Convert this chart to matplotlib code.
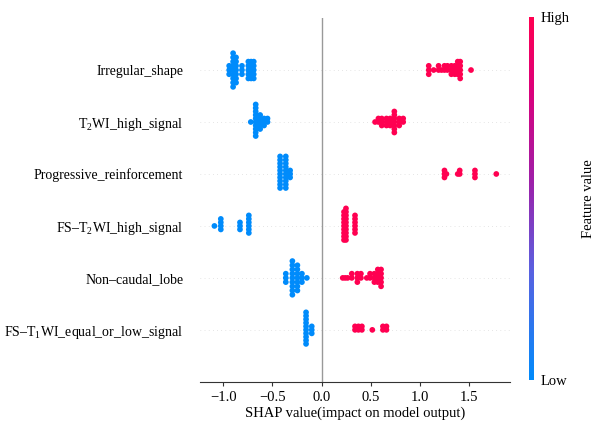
import numpy as np
import matplotlib
matplotlib.use("Agg")
import matplotlib.pyplot as plt
from matplotlib.colors import LinearSegmentedColormap, Normalize
from matplotlib.cm import ScalarMappable

plt.rcParams['font.family'] = ['Liberation Serif', 'DejaVu Serif']
plt.rcParams['mathtext.fontset'] = 'custom'
plt.rcParams['mathtext.rm'] = 'Liberation Serif'
plt.rcParams['axes.unicode_minus'] = True

# features, bottom row first (as drawn)
features = [
    "FS\u2013T$_\\mathregular{1}$WI_equal_or_low_signal",
    "Non\u2013caudal_lobe",
    "FS\u2013T$_\\mathregular{2}$WI_high_signal",
    "Progressive_reinforcement",
    "T$_\\mathregular{2}$WI_high_signal",
    "Irregular_shape",
]

# SHAP values, with how many points sit at each value
# low feature value (blue)
low_vals = [
    [-0.158, -0.10],
    [-0.364, -0.297, -0.246, -0.20, -0.15],
    [-1.09, -1.025, -0.83, -0.74],
    [-0.422, -0.364, -0.32],
    [-0.72, -0.67, -0.625, -0.585, -0.55],
    [-0.94, -0.90, -0.87, -0.81, -0.745, -0.717, -0.69],
]
low_counts = [
    [10, 3],
    [3, 9, 7, 3, 1],
    [1, 4, 3, 6],
    [10, 10, 3],
    [1, 10, 5, 3, 2],
    [3, 9, 7, 3, 5, 5, 5],
]
# high feature value (red)
high_vals = [
    [0.34, 0.375, 0.41, 0.516, 0.624, 0.66],
    [0.215, 0.24, 0.265, 0.307, 0.364, 0.40, 0.46, 0.493, 0.537, 0.572, 0.605],
    [0.228, 0.248, 0.34],
    [1.25, 1.27, 1.385, 1.405, 1.56, 1.777],
    [0.544, 0.578, 0.612, 0.66, 0.697, 0.74, 0.79, 0.83],
    [1.09, 1.14, 1.19, 1.22, 1.25, 1.28, 1.32, 1.355, 1.385, 1.41, 1.52],
]
high_counts = [
    [2, 2, 2, 1, 2, 2],
    [1, 1, 1, 2, 3, 2, 1, 2, 3, 4, 5],
    [9, 10, 6],
    [3, 1, 1, 2, 3, 1],
    [1, 2, 3, 3, 3, 7, 3, 2],
    [3, 1, 2, 1, 2, 2, 3, 3, 4, 5, 1],
]

blue = (0.0, 0.545, 0.984)
red = (1.0, 0.0, 0.318)
cmap = LinearSegmentedColormap.from_list(
    "red_blue",
    [(0.0, blue), (0.3, (0.35, 0.38, 0.88)), (0.55, (0.62, 0.12, 0.66)),
     (0.8, (0.86, 0.0, 0.48)), (1.0, red)])

fig = plt.figure(figsize=(5.99, 4.30), dpi=100)
ax = fig.add_axes([0.334, 0.112, 0.5175, 0.846])

row_height = 0.45
for pos in range(len(features)):
    ax.axhline(pos, color="#cccccc", lw=0.5, dashes=(1, 5), zorder=-1)
    shaps = np.concatenate([np.repeat(low_vals[pos], low_counts[pos]),
                            np.repeat(high_vals[pos], high_counts[pos])])
    fvals = np.concatenate([np.zeros(sum(low_counts[pos])),
                            np.ones(sum(high_counts[pos]))])
    # beeswarm stacking like shap
    nbins = 100
    quant = np.round(nbins * (shaps - shaps.min()) / (shaps.max() - shaps.min() + 1e-8))
    inds = np.argsort(quant, kind="stable")
    layer = 0
    last_bin = -1
    ys = np.zeros(len(shaps))
    for i in inds:
        if quant[i] != last_bin:
            layer = 0
        ys[i] = np.ceil(layer / 2) * ((layer % 2) * 2 - 1)
        layer += 1
        last_bin = quant[i]
    ys *= 0.9 * (row_height / np.max(ys + 1))
    ax.scatter(shaps, pos + ys, c=fvals, cmap=cmap, vmin=0, vmax=1,
               s=17, linewidth=0, zorder=3)

ax.axvline(0, color="#999999", lw=1.0, zorder=-1)
ax.set_ylim(-1, len(features))
ax.set_xlim(-1.236, 1.917)
ax.set_yticks(range(len(features)))
ax.set_yticklabels(features, fontsize=10)
ax.tick_params('y', length=0, pad=12)
ax.tick_params('x', labelsize=10.5, length=3, width=0.8, color="#333333")
ax.set_xticks([-1.0, -0.5, 0.0, 0.5, 1.0, 1.5])
for side in ['left', 'right', 'top']:
    ax.spines[side].set_visible(False)
ax.spines['bottom'].set_color("#333333")
ax.set_xlabel("SHAP value(impact on model output)", fontsize=10.5, labelpad=2)

cax = fig.add_axes([0.883, 0.116, 0.0085, 0.844])
sm = ScalarMappable(norm=Normalize(0, 1), cmap=cmap)
cb = fig.colorbar(sm, cax=cax, ticks=[0, 1])
cb.set_ticklabels(["Low", "High"])
cb.ax.tick_params(labelsize=10.5, length=0, pad=5)
cb.outline.set_visible(False)
cb.set_label("Feature value", fontsize=10.5, labelpad=9)

fig.savefig("out.png", dpi=100)
